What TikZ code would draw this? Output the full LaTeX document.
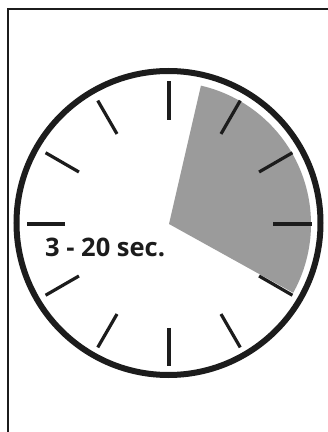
\documentclass[tikz,border=0pt]{standalone}
\usepackage{fontspec}
\setmainfont{Open Sans}
\usetikzlibrary{calc}
\definecolor{inkc}{RGB}{28,28,28}
\definecolor{sectorc}{RGB}{155,155,155}
\begin{document}
\begin{tikzpicture}[x=1pt,y=1pt,
  frameline/.style={draw=inkc,line width=2pt},
  ring/.style={draw=inkc,line width=6pt},
  tickmark/.style={draw=inkc,line width=3.2pt},
  label/.style={font=\bfseries\fontsize{25.5}{28}\selectfont,text=inkc,inner sep=0pt}]
\useasboundingbox (0,0) rectangle (328,432);
\fill[white] (0,0) rectangle (328,432);
% frame
\draw[frameline] (8,0) -- (8,423) -- (330,423);
% sector
\coordinate (c) at (169,208);
\fill[sectorc] (c) -- ++(77:142) arc[start angle=77,end angle=-29,radius=142] -- cycle;
% ticks
\foreach \a in {0,30,...,330}{
  \draw[tickmark] ($(c)+(\a:104)$) -- ($(c)+(\a:142.5)$);
}
% ring
\draw[ring] (168.5,209) circle[radius=152];
% label
\node[label,anchor=base west] (lbl) at (45,175) {3 - 20 sec.};
\end{tikzpicture}
\end{document}
